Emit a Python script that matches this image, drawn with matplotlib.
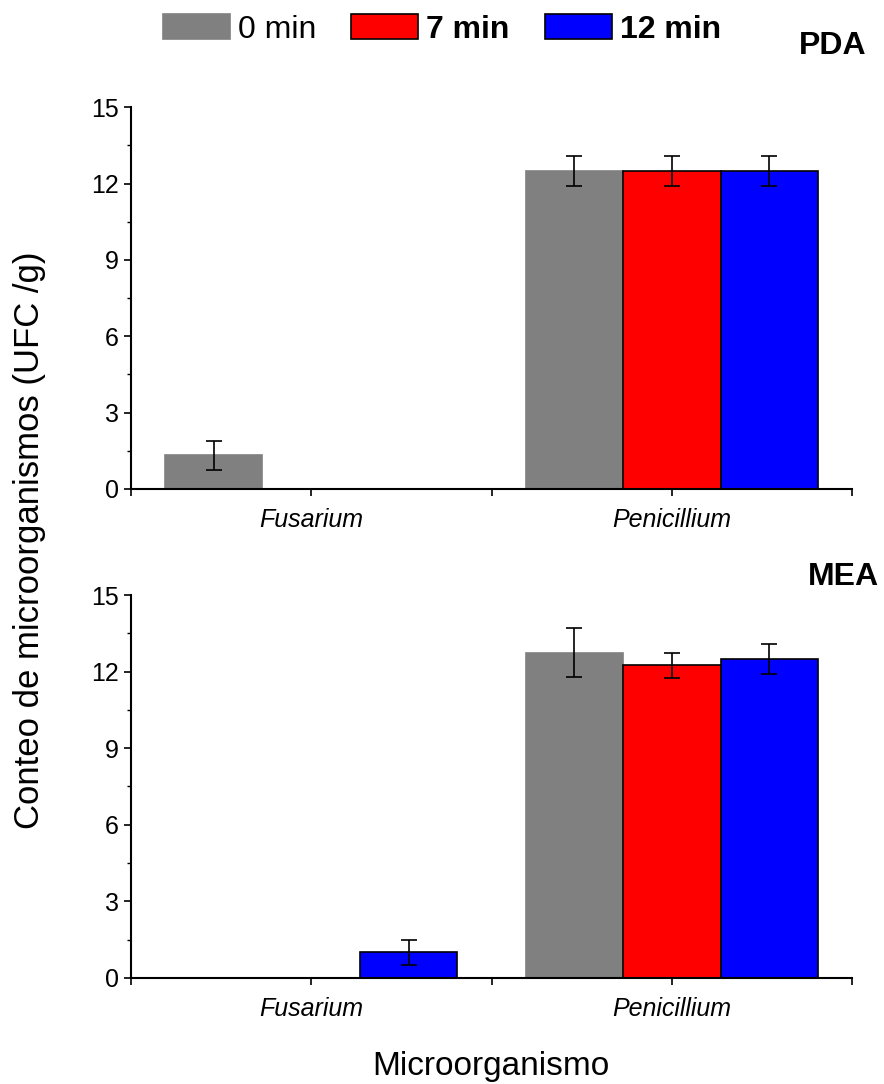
import numpy as np
import matplotlib.pyplot as plt
from matplotlib.ticker import MultipleLocator

plt.rcParams['font.family'] = ['Liberation Sans', 'DejaVu Sans']

# data
categories = ['Fusarium', 'Penicillium']
series = ['0 min', '7 min', '12 min']
colors = ['#808080', '#ff0000', '#0000ff']
edges = ['#808080', 'black', 'black']

pda_vals = [[1.33, 12.5], [0.0, 12.5], [0.0, 12.5]]
pda_err = [[0.57, 0.58], [0.0, 0.58], [0.0, 0.58]]
mea_vals = [[0.0, 12.75], [0.0, 12.25], [1.0, 12.5]]
mea_err = [[0.0, 0.95], [0.0, 0.5], [0.5, 0.58]]

width = 0.27
fig = plt.figure(figsize=(8.84, 10.84), dpi=100)
ax1 = fig.add_axes([0.148, 0.549, 0.816, 0.352])
ax2 = fig.add_axes([0.148, 0.098, 0.816, 0.353])

x = np.arange(1, len(categories) + 1)
handles = []
for ax, vals, errs in [(ax1, pda_vals, pda_err), (ax2, mea_vals, mea_err)]:
    for i in range(len(series)):
        v = np.array(vals[i])
        e = np.array(errs[i])
        keep = v > 0
        pos = x[keep] + (i - 1) * width
        b = ax.bar(pos, v[keep], width=width, color=colors[i], edgecolor=edges[i],
                   linewidth=1.2, label=series[i])
        ax.errorbar(pos, v[keep], yerr=e[keep], fmt='none', ecolor='black',
                    elinewidth=1.2, capsize=6, capthick=1.2)
        if ax is ax1:
            handles.append(b)
    ax.set_xlim(0.5, 2.5)
    ax.set_ylim(0, 15)
    ax.yaxis.set_major_locator(MultipleLocator(3))
    ax.yaxis.set_minor_locator(MultipleLocator(1.5))
    ax.set_xticks(x)
    ax.set_xticks([0.5, 1.5, 2.5], minor=True)
    ax.set_xticklabels(categories, fontstyle='italic', fontsize=18)
    ax.tick_params(axis='y', which='major', direction='out', length=5, width=1.2, labelsize=18)
    ax.tick_params(axis='y', which='minor', direction='out', length=3, width=1)
    ax.tick_params(axis='x', which='both', direction='out', length=5, width=1.2, pad=9)
    for s in ['top', 'right']:
        ax.spines[s].set_visible(False)
    for s in ['left', 'bottom']:
        ax.spines[s].set_linewidth(1.5)

fig.text(0.980, 0.958, 'PDA', ha='right', va='center', fontsize=23, fontweight='bold')
fig.text(0.994, 0.468, 'MEA', ha='right', va='center', fontsize=23, fontweight='bold')

leg = fig.legend(handles, series, loc='center', bbox_to_anchor=(0.5, 0.973), ncol=3,
                 frameon=False, fontsize=23, handlelength=2.1, handleheight=0.85,
                 handletextpad=0.25, columnspacing=1.1, borderpad=0, borderaxespad=0)
for t in leg.get_texts()[1:]:
    t.set_fontweight('bold')

fig.text(0.033, 0.502, 'Conteo de microorganismos (UFC /g)', rotation=90, ha='center',
         va='center', fontsize=25)
fig.text(0.555, 0.016, 'Microorganismo', ha='center', va='center', fontsize=24)

fig.savefig('out.png', dpi=100)
